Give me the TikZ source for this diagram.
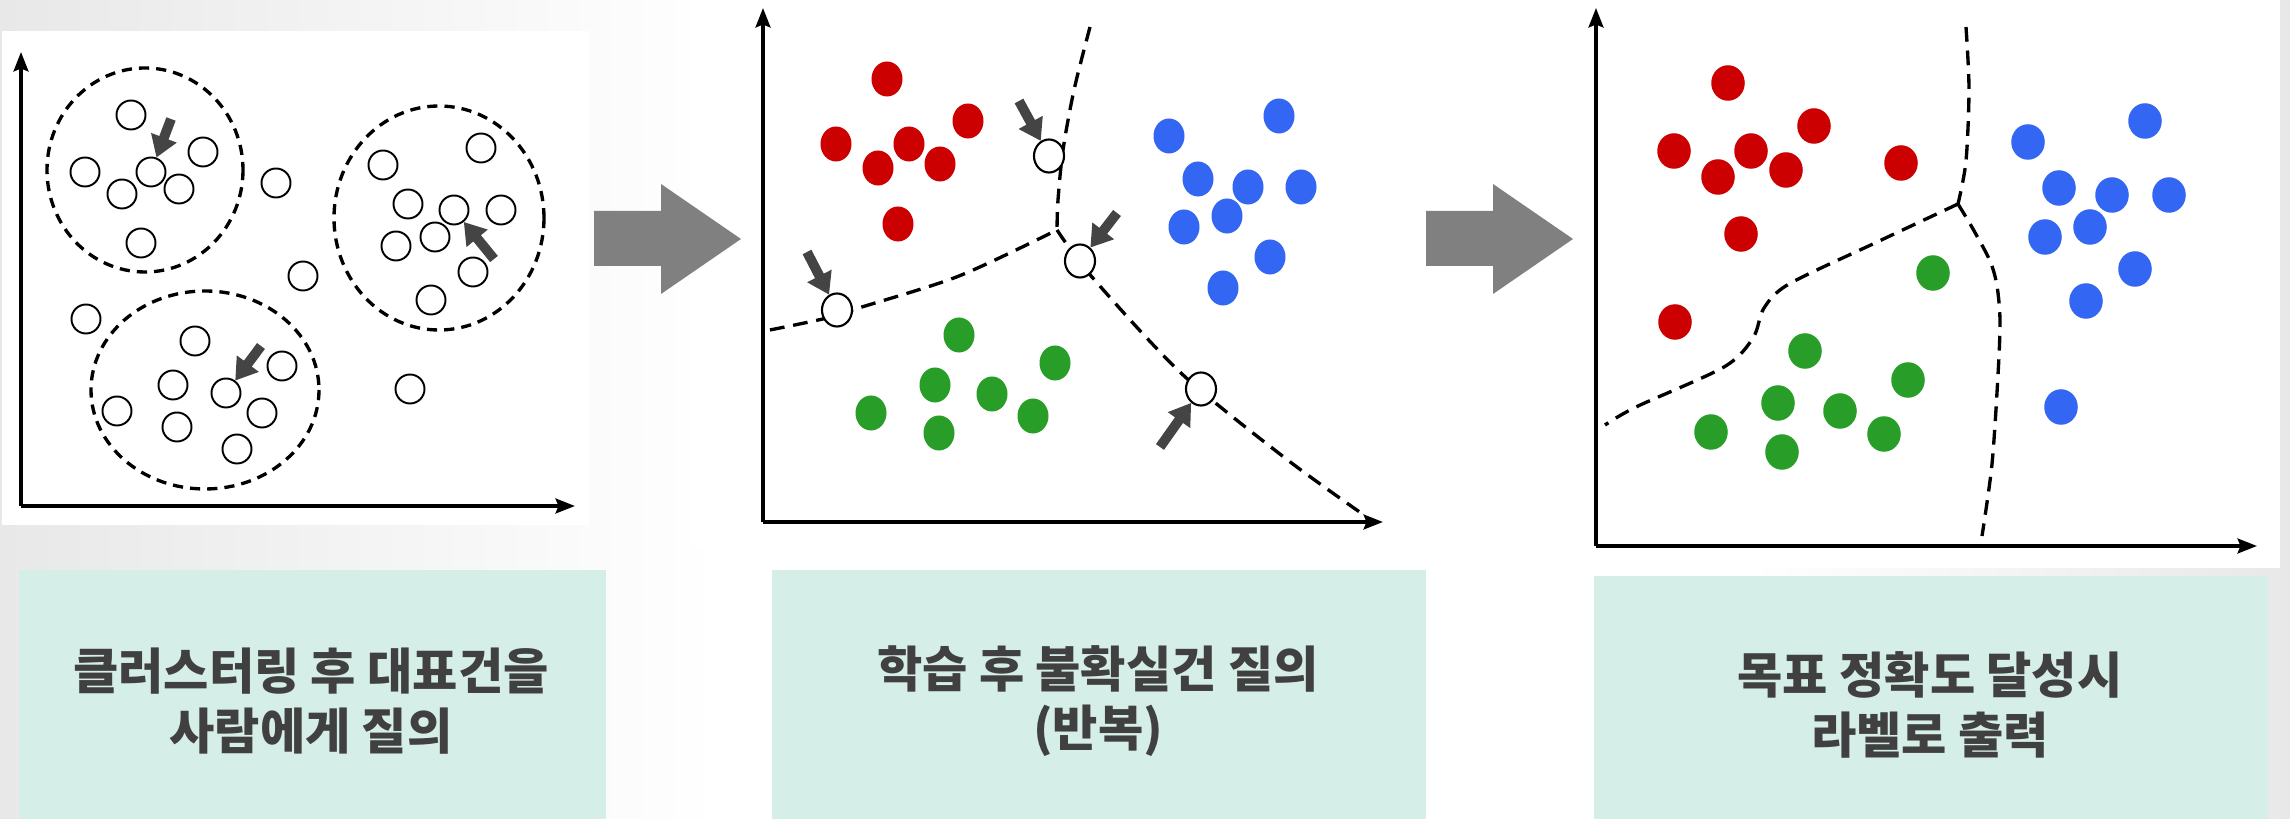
\documentclass[tikz,border=0pt]{standalone}
\usepackage{fontspec}
\newfontfamily\kr{Noto Sans CJK KR}
\usetikzlibrary{arrows.meta,shapes.geometric}
\definecolor{boxfill}{HTML}{D6EEE8}
\definecolor{txt}{HTML}{404040}
\definecolor{ptr}{HTML}{444444}
\definecolor{bigarrow}{HTML}{808080}
\definecolor{dred}{HTML}{CC0000}
\definecolor{dblue}{HTML}{3366F2}
\definecolor{dgreen}{HTML}{289E28}
\definecolor{bgside}{HTML}{E8E8E8}
\begin{document}
\begin{tikzpicture}[x=0.01cm,y=-0.01cm,
  odot/.style={circle,draw=black,fill=white,line width=0.55pt,inner sep=0pt,minimum size=0.29cm},
  qdot/.style={ellipse,draw=black,fill=white,line width=0.6pt,inner sep=0pt,minimum width=0.30cm,minimum height=0.33cm},
  dotB/.style={ellipse,inner sep=0pt,minimum width=0.31cm,minimum height=0.35cm},
  dotC/.style={ellipse,inner sep=0pt,minimum width=0.335cm,minimum height=0.355cm},
  rdot/.style={fill=dred},
  bdot/.style={fill=dblue},
  gdot/.style={fill=dgreen},
  ptrarrow/.style={draw=ptr,line width=2.8pt,-{Triangle[length=6pt,width=7.4pt]}},
  axisline/.style={line width=1pt,-{Stealth[length=5.5pt,width=4.2pt,inset=0.8pt]}},
  boundary/.style={line width=0.95pt,dash pattern=on 4.2pt off 2.5pt},
  clusterring/.style={line width=0.95pt,dash pattern=on 2.9pt off 2pt},
  tbox/.style={rectangle,fill=boxfill,inner sep=0pt,anchor=north west},
  btext/.style={align=center,text=txt,font=\kr\bfseries\fontsize{14pt}{17pt}\selectfont}
]
\useasboundingbox (0,0) rectangle (2290,819);
% background
\fill[white] (0,0) rectangle (2290,819);
\shade[left color=bgside,right color=white] (0,0) rectangle (720,819);
\shade[left color=white,right color=bgside] (1750,0) rectangle (2290,819);
\fill[white] (2,31) rectangle (589,525);
\fill[white] (690,0) rectangle (1420,548);
\fill[white] (1583,0) rectangle (2280,568);

% big gray arrows
\fill[bigarrow] (594,211) -- (661,211) -- (661,184) -- (741,239) -- (661,294) -- (661,266) -- (594,266) -- cycle;
\fill[bigarrow] (1426,211) -- (1493,211) -- (1493,184) -- (1573,239) -- (1493,294) -- (1493,266) -- (1426,266) -- cycle;

% ================= Panel 1 =================
\coordinate (o1) at (21,506);
\coordinate (y1) at (21,52);
\coordinate (x1) at (575,506);
\draw[axisline] (o1) -- (y1);
\draw[axisline] (o1) -- (x1);
\draw[clusterring] (145,170) ellipse [x radius=98, y radius=102];
\draw[clusterring] (439,218) ellipse [x radius=105, y radius=112];
\draw[clusterring] (205,390) ellipse [x radius=114, y radius=99];
\foreach \px/\py [count=\i] in {131/115,203/152,85/172,122/194,179/189,141/243,
  276/183,303/276,86/319,410/389,
  383/165,481/148,408/204,501/210,435/237,396/246,473/272,431/300,
  195/341,282/366,173/385,117/411,262/413,177/427,237/449}
  \node[odot] (c\i) at (\px,\py) {};
\node[odot] (p1) at (151,172) {};
\node[odot] (p2) at (454,210) {};
\node[odot] (p3) at (226,393) {};
\coordinate (tp1) at (171,119);
\coordinate (tp2) at (494,259);
\coordinate (tp3) at (261,346);
\draw[ptrarrow] (tp1) -- (p1);
\draw[ptrarrow] (tp2) -- (p2);
\draw[ptrarrow] (tp3) -- (p3);

% ================= Panel 2 =================
\coordinate (o2) at (763,522);
\coordinate (y2) at (763,8);
\coordinate (x2) at (1383,522);
\draw[axisline] (o2) -- (y2);
\draw[axisline] (o2) -- (x2);
\draw[boundary] plot[smooth] coordinates {(1090,27) (1074,90) (1063,150) (1058,200) (1057,230)};
\draw[boundary] plot[smooth] coordinates {(770,330) (827,318) (862,307) (959,276) (1057,230)};
\draw[boundary] plot[smooth] coordinates {(1057,230) (1092,277) (1182,374) (1285,458) (1361,513)};
\foreach \px/\py [count=\i] in {887/79,968/121,836/144,909/144,878/168,940/164,898/224}
  \node[dotB,rdot] (r\i) at (\px,\py) {};
\foreach \px/\py [count=\i] in {1279/116,1169/136,1198/179,1248/187,1301/187,1227/216,1184/227,1270/257,1223/288}
  \node[dotB,bdot] (b\i) at (\px,\py) {};
\foreach \px/\py [count=\i] in {959/335,1055/363,935/385,992/394,871/413,1033/416,939/433}
  \node[dotB,gdot] (g\i) at (\px,\py) {};
\node[qdot] (q1) at (1049,156) {};
\node[qdot] (q2) at (1080,261) {};
\node[qdot] (q3) at (837,310) {};
\node[qdot] (q4) at (1201,389) {};
\coordinate (tq1) at (1019,101);
\coordinate (tq2) at (1117,213);
\coordinate (tq3) at (807,252);
\coordinate (tq4) at (1160,447);
\draw[ptrarrow] (tq1) -- (q1);
\draw[ptrarrow] (tq2) -- (q2);
\draw[ptrarrow] (tq3) -- (q3);
\draw[ptrarrow] (tq4) -- (q4);

% ================= Panel 3 =================
\coordinate (o3) at (1596,546);
\coordinate (y3) at (1596,8);
\coordinate (x3) at (2257,546);
\draw[axisline] (o3) -- (y3);
\draw[axisline] (o3) -- (x3);
\draw[boundary] plot[smooth] coordinates {(1966,27) (1969,89) (1966,161) (1958,204)};
\draw[boundary] plot[smooth] coordinates {(1958,204) (1875,243) (1789,284) (1764,308) (1753,338) (1724,367) (1636,407) (1605,425)};
\draw[boundary] plot[smooth] coordinates {(1958,204) (1973,229) (1990,261) (1997,286) (2000,321) (1998,375) (1992,464) (1982,536)};
\foreach \px/\py [count=\i] in {1728/83,1814/126,1674/151,1751/151,1718/177,1786/170,1901/163,1741/234,1675/322}
  \node[dotC,rdot] (rr\i) at (\px,\py) {};
\foreach \px/\py [count=\i] in {2145/121,2028/142,2059/188,2112/195,2169/195,2090/227,2045/237,2135/269,2086/301,2061/407}
  \node[dotC,bdot] (bb\i) at (\px,\py) {};
\foreach \px/\py [count=\i] in {1933/273,1805/351,1908/380,1778/403,1840/411,1711/432,1884/434,1782/452}
  \node[dotC,gdot] (gg\i) at (\px,\py) {};

% ================= Text boxes =================
\node[tbox,minimum width=5.87cm,minimum height=2.50cm] (box1) at (18,569) {};
\node[tbox,minimum width=6.54cm,minimum height=2.50cm] (box2) at (771,569) {};
\node[tbox,minimum width=6.74cm,minimum height=2.44cm] (box3) at (1593,575) {};
\node[btext] (t1) at (311,701) {클러스터링 후 대표건을\\사람에게 질의};
\node[btext] (t2) at (1098,701) {학습 후 불확실건 질의\\(반복)};
\node[btext] (t3) at (1930,705) {목표 정확도 달성시\\라벨로 출력};
\end{tikzpicture}
\end{document}
